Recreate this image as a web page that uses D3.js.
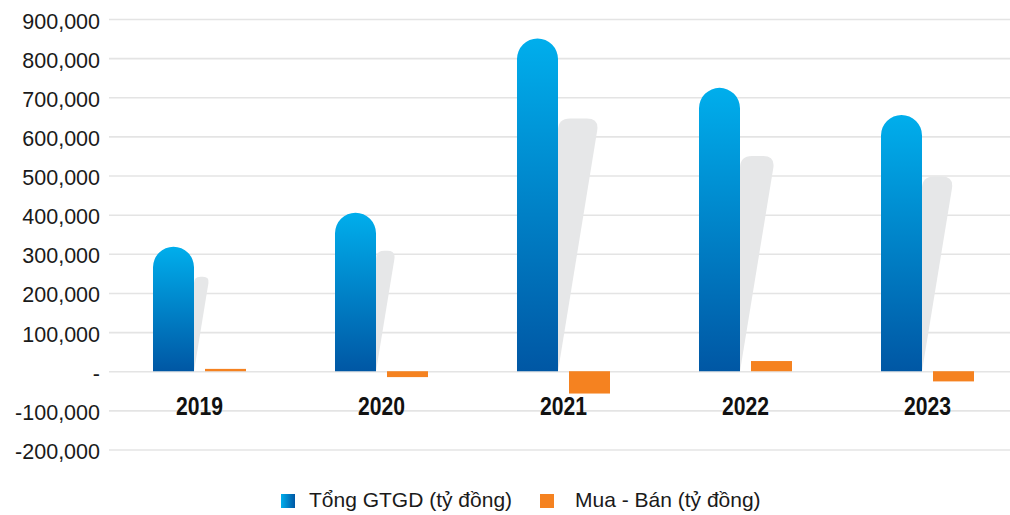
<!DOCTYPE html>
<html><head><meta charset="utf-8">
<script src="https://cdn.jsdelivr.net/npm/d3@7"></script>
<style>
html,body{margin:0;padding:0;background:#fff;}
svg{display:block;font-family:"Liberation Sans",Arial,sans-serif;}
</style></head>
<body>
<svg id="chart" width="1010" height="515"></svg>
<script>
const years = ["2019", "2020", "2021", "2022", "2023"];
const seriesNames = ["Tổng GTGD (tỷ đồng)", "Mua - Bán (tỷ đồng)"];
const totalValue = [318000, 405000, 850000, 724000, 655000];
const netValue = [6000, -15000, -57000, 26000, -26000];
const yTicks = [-200000, -100000, 0, 100000, 200000, 300000, 400000, 500000, 600000, 700000, 800000, 900000];

const svg = d3.select("#chart");
const W = 1010;
const plotLeft = 109;

const x0 = d3.scaleBand().domain(years).range([108.5, 1018.5]).paddingInner(0.489).paddingOuter(0.2445);
const x1 = d3.scaleBand().domain(seriesNames).range([0, x0.bandwidth()]).paddingInner(0.2115);
const y = d3.scaleLinear().domain([-200000, 900000]).range([449.5, 19]);

const loc = d3.formatLocale({decimal: ".", thousands: ",", grouping: [3], currency: ["", ""], minus: "-"});
const fmt = loc.format(",");

const defs = svg.append("defs");
const gv = defs.append("linearGradient").attr("id", "gBlueV").attr("x1", 0).attr("y1", 0).attr("x2", 0).attr("y2", 1);
gv.append("stop").attr("offset", "0%").attr("stop-color", "#00aeec");
gv.append("stop").attr("offset", "100%").attr("stop-color", "#0057a4");
const gh = defs.append("linearGradient").attr("id", "gBlueH").attr("x1", 0).attr("y1", 0).attr("x2", 1).attr("y2", 0);
gh.append("stop").attr("offset", "0%").attr("stop-color", "#00aeec");
gh.append("stop").attr("offset", "100%").attr("stop-color", "#0057a4");

// axis + gridlines
const axis = d3.axisLeft(y).tickValues(yTicks)
  .tickFormat(v => v === 0 ? "-" : fmt(v))
  .tickSizeInner(-(W - plotLeft)).tickSizeOuter(0).tickPadding(9);
const ga = svg.append("g").attr("transform", `translate(${plotLeft},0)`).call(axis);
ga.select(".domain").remove();
ga.selectAll(".tick line").attr("stroke", "#e4e4e4").attr("stroke-width", 1.6);
ga.selectAll(".tick text").attr("fill", "#1a1a1a").style("font-size", "21.5px")
  .style("font-family", "'Liberation Sans', Arial, sans-serif").attr("dy", "0.42em");

const y0 = y(0);
const bw = x1.bandwidth();

// shadows
const shadowG = svg.append("g");
years.forEach((yr, i) => {
  const xb = x0(yr) + x1(seriesNames[0]) + bw;
  const yt = y0 - (y0 - y(totalValue[i])) * 0.76;
  const h = y0 - yt;
  const w = Math.min(h * 0.163, bw);
  const r = Math.min(w * 0.42, 12);
  const p = d3.path();
  p.moveTo(xb, y0);
  p.lineTo(xb, yt + r);
  p.quadraticCurveTo(xb, yt, xb + r, yt);
  p.lineTo(xb + w - r, yt);
  p.quadraticCurveTo(xb + w, yt, xb + w - 0.15 * r, yt + r);
  p.lineTo(xb, y0);
  p.closePath();
  shadowG.append("path").attr("d", p.toString()).attr("fill", "#e6e7e8");
});

// blue bars
const barG = svg.append("g");
years.forEach((yr, i) => {
  const xl = x0(yr) + x1(seriesNames[0]);
  const yt = y(totalValue[i]);
  const r = bw / 2;
  const p = d3.path();
  p.moveTo(xl, y0);
  p.lineTo(xl, yt + r);
  p.arc(xl + r, yt + r, r, Math.PI, 2 * Math.PI);
  p.lineTo(xl + bw, y0);
  p.closePath();
  barG.append("path").attr("d", p.toString()).attr("fill", "url(#gBlueV)");
});

// orange bars
svg.append("g").selectAll("rect").data(years).join("rect")
  .attr("x", d => x0(d) + x1(seriesNames[1]))
  .attr("width", bw)
  .attr("y", (d, i) => Math.min(y(netValue[i]), y0))
  .attr("height", (d, i) => Math.abs(y(netValue[i]) - y0))
  .attr("fill", "#f58220");

// year labels
svg.append("g").selectAll("text").data(years).join("text")
  .attr("x", d => x0(d) + x0.bandwidth() / 2)
  .attr("y", 415)
  .attr("text-anchor", "middle")
  .attr("textLength", 47).attr("lengthAdjust", "spacingAndGlyphs")
  .style("font-size", "25.5px").style("font-weight", "bold").attr("fill", "#111")
  .text(d => d);

// legend
const legendItems = [
  {name: seriesNames[0], fill: "url(#gBlueH)", sx: 281, tx: 309},
  {name: seriesNames[1], fill: "#f58220", sx: 540, tx: 575}
];
const lg = svg.append("g");
legendItems.forEach(it => {
  lg.append("rect").attr("x", it.sx).attr("y", 494).attr("width", 14).attr("height", 14).attr("fill", it.fill);
  lg.append("text").attr("x", it.tx).attr("y", 507).style("font-size", "21px").attr("fill", "#1a1a1a").text(it.name);
});
</script>
</body></html>
